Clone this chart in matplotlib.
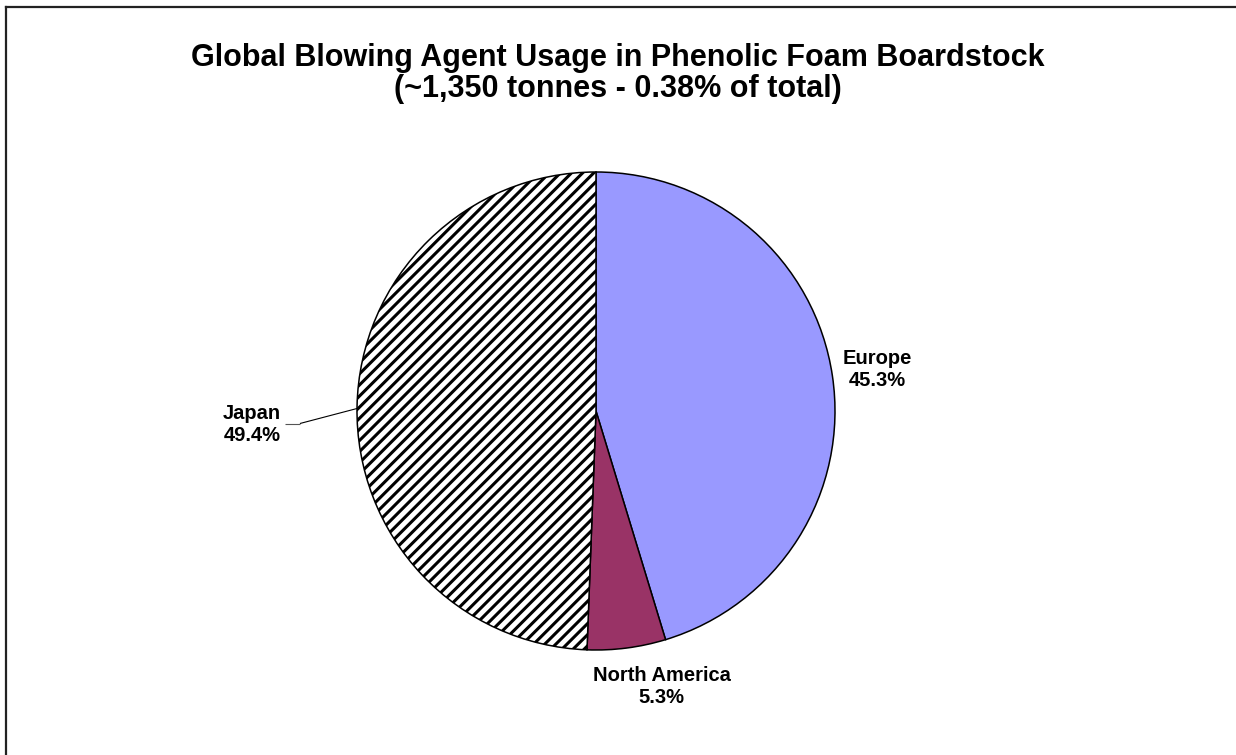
import matplotlib
matplotlib.use("Agg")
import matplotlib.pyplot as plt
from matplotlib.lines import Line2D
import numpy as np

# Regional share of blowing agent usage (%)
regions = ["Europe", "North America", "Japan"]
shares = [45.3, 5.3, 49.4]
colors = ["#9999FF", "#993366", "#FFFFFF"]
hatches = [None, None, "///"]

title_lines = ["Global Blowing Agent Usage in Phenolic Foam Boardstock",
               "(~1,350 tonnes - 0.38% of total)"]

plt.rcParams["font.family"] = ["Liberation Sans", "DejaVu Sans"]
plt.rcParams["hatch.linewidth"] = 2.2

W, H = 1236, 755
fig = plt.figure(figsize=(W / 100, H / 100), dpi=100)
ax = fig.add_axes([0, 0, 1, 1])

cx, cy, r = 596, H - 411, 239
wedges, _ = ax.pie(shares, colors=colors, startangle=90, counterclock=False,
                   center=(cx, cy), radius=r, frame=True,
                   wedgeprops=dict(edgecolor="black", linewidth=1.1))
ax.set_xlim(0, W)
ax.set_ylim(0, H)
ax.set_aspect("equal")
ax.axis("off")
for w, h in zip(wedges, hatches):
    if h:
        w.set_hatch(h)

# label placement: distance factor along wedge mid-angle, plus small offsets
label_dist = {"Europe": 1.19, "North America": 1.164, "Japan": 1.44}
label_shift = {"Europe": (0, 0), "North America": (30, 0), "Japan": (0, -20)}
for w, name, val in zip(wedges, regions, shares):
    mid = np.deg2rad((w.theta1 + w.theta2) / 2)
    d = label_dist[name]
    sx, sy = label_shift[name]
    tx = cx + d * r * np.cos(mid) + sx
    ty = cy + d * r * np.sin(mid) + sy
    ax.text(tx, ty, f"{name}\n{val:.1f}%", ha="center", va="center",
            fontsize=14.5, fontweight="bold", linespacing=1.2)
    if name == "Japan":
        ex = cx + r * np.cos(mid)
        ey = cy + r * np.sin(mid)
        ax.plot([ex, tx + 48], [ey - 2, ty + 1], color="black", lw=0.8,
                solid_capstyle="butt")
        ax.plot([tx + 48, tx + 33], [ty + 1, ty + 1], color="#555555", lw=0.8,
                solid_capstyle="butt")

fig.text(0.5, 1 - 58 / H, title_lines[0], ha="center", va="center",
         fontsize=22, fontweight="bold")
fig.text(0.5, 1 - 89 / H, title_lines[1], ha="center", va="center",
         fontsize=22, fontweight="bold")

# chart area border (left and top edges)
fig.add_artist(Line2D([6 / W, 6 / W], [0, 1 - 7 / H], transform=fig.transFigure,
                      color="#222222", lw=1.6))
fig.add_artist(Line2D([6 / W, 1], [1 - 7 / H, 1 - 7 / H], transform=fig.transFigure,
                      color="#222222", lw=1.6))

fig.savefig("out.png", dpi=100, facecolor="white")
